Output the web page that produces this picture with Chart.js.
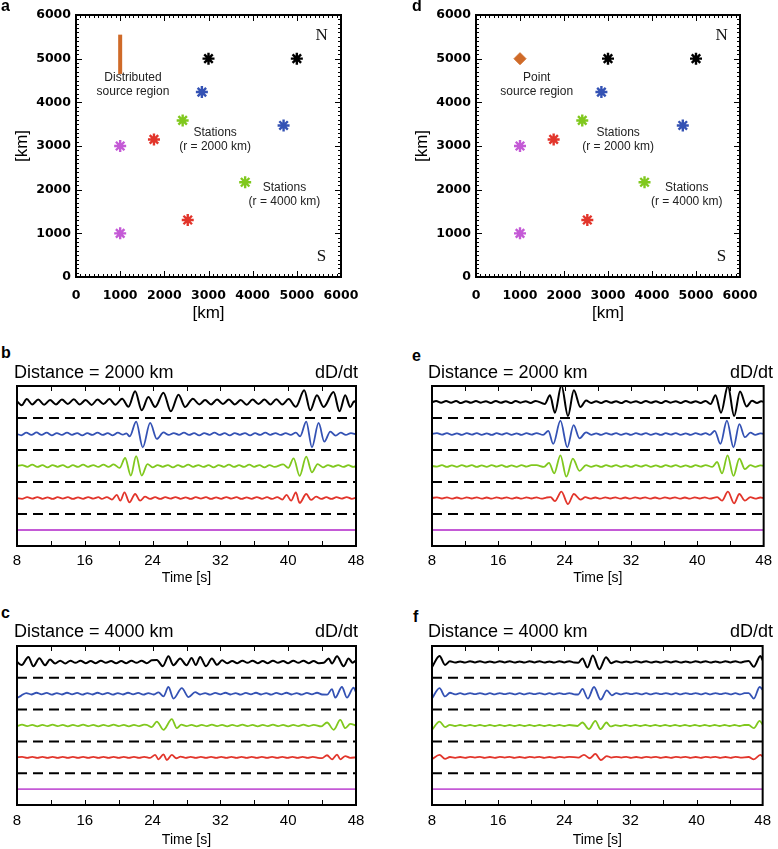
<!DOCTYPE html>
<html>
<head>
<meta charset="utf-8">
<title>Stations and waveforms</title>
<script src="https://cdn.jsdelivr.net/npm/chart.js@4.4.0/dist/chart.umd.min.js"></script>
<style>
  body { margin: 0; background: #fff; }
  #page { position: relative; width: 778px; height: 849px; overflow: hidden; font-family: "Liberation Sans", Arial, sans-serif; }
  canvas { position: absolute; }
  .t { position: absolute; white-space: nowrap; line-height: 1; color: #000; }
  .letter { font-weight: bold; font-size: 16px; }
  .ttl { font-size: 18px; }
</style>
</head>
<body>
<div id="page">
  <canvas id="cA" width="390" height="330" style="left:0;top:0"></canvas>
  <canvas id="cD" width="378" height="330" style="left:400px;top:0"></canvas>
  <canvas id="cB" width="385" height="215" style="left:0;top:380px"></canvas>
  <canvas id="cE" width="378" height="215" style="left:400px;top:380px"></canvas>
  <canvas id="cC" width="385" height="215" style="left:0;top:640px"></canvas>
  <canvas id="cF" width="378" height="215" style="left:400px;top:640px"></canvas>

  <div class="t letter" style="left:1px;top:-2px">a</div>
  <div class="t letter" style="left:412px;top:-2px">d</div>
  <div class="t letter" style="left:1px;top:345px">b</div>
  <div class="t letter" style="left:412px;top:348px">e</div>
  <div class="t letter" style="left:1px;top:605px">c</div>
  <div class="t letter" style="left:413px;top:609px">f</div>

  <div class="t ttl" style="left:14px;top:363px">Distance = 2000 km</div>
  <div class="t ttl" style="right:420px;top:363px">dD/dt</div>
  <div class="t ttl" style="left:428px;top:363px">Distance = 2000 km</div>
  <div class="t ttl" style="right:5px;top:363px">dD/dt</div>
  <div class="t ttl" style="left:14px;top:622px">Distance = 4000 km</div>
  <div class="t ttl" style="right:420px;top:622px">dD/dt</div>
  <div class="t ttl" style="left:428px;top:622px">Distance = 4000 km</div>
  <div class="t ttl" style="right:5px;top:622px">dD/dt</div>
</div>
<script>
// ---- map panels (a, d) ----
var kmTicks = [0, 1000, 2000, 3000, 4000, 5000, 6000];
// stations at r = 2000 km and r = 4000 km (black, blue, green, red, purple)
var innerRingX = [3000, 2850, 2415, 1765, 1000];
var innerRingY = [5000, 4235, 3585, 3150, 3000];
var outerRingX = [5000, 4700, 3830, 2530, 1000];
var outerRingY = [5000, 3470, 2170, 1305, 1000];
var distributedSourceX = [1000, 1000];
var distributedSourceY = [4650, 5550];
var pointSourceX = [1000];
var pointSourceY = [5000];

// ---- waveform panels (b, c, e, f): [time s, amplitude] ----
var timeTicks = [8, 16, 24, 32, 40, 48];

var bBlack = [[8,0.05],[8.55,-0.2],[9.15,0.18],[9.8,-0.15],[10.5,0.15],[11.2,-0.17],[11.9,0.12],[12.6,-0.15],[13.3,0.15],[14.0,-0.12],[14.7,0.17],[15.4,-0.15],[16.1,0.12],[16.8,-0.18],[17.5,0.15],[18.2,-0.12],[18.9,0.18],[19.6,-0.17],[20.4,0.2],[21.15,-0.3],[21.94,0.67],[22.72,-0.52],[23.5,0.31],[24.3,-0.31],[25.28,0.58],[26.15,-0.58],[27.06,0.46],[27.84,-0.31],[28.75,0.21],[29.5,-0.15],[30.2,0.12],[30.9,-0.15],[31.6,0.15],[32.3,-0.12],[33.0,0.15],[33.7,-0.15],[34.4,0.12],[35.1,-0.17],[35.8,0.15],[36.5,-0.12],[37.2,0.15],[37.9,-0.15],[38.6,0.17],[39.3,-0.15],[40.05,0.18],[40.9,-0.3],[41.89,0.73],[42.6,-0.52],[43.39,0.42],[44.18,-0.31],[45.35,0.62],[46.06,-0.58],[46.73,0.42],[47.32,-0.31],[47.8,0.05],[48,-0.05]];
var bBlue = [[8,0],[8.5,-0.08],[9.1,0.08],[9.7,-0.06],[10.3,0.1],[10.9,-0.06],[11.5,0.08],[12.1,-0.08],[12.7,0.06],[13.3,-0.06],[13.9,0.08],[14.5,-0.05],[15.1,0.06],[15.7,-0.08],[16.3,0.05],[16.9,-0.06],[17.5,0.08],[18.1,-0.06],[18.7,0.05],[19.3,-0.08],[19.9,0.08],[20.5,-0.04],[20.9,0.04],[21.3,-0.15],[22.06,0.77],[22.84,-0.83],[23.71,0.69],[24.5,-0.31],[25.28,0.1],[25.9,-0.06],[26.5,0.06],[27.1,-0.05],[27.7,0.08],[28.3,-0.06],[28.9,0.05],[29.5,-0.08],[30.1,0.06],[30.7,-0.05],[31.3,0.08],[31.9,-0.06],[32.5,0.05],[33.1,-0.08],[33.7,0.06],[34.3,-0.05],[34.9,0.06],[35.5,-0.08],[36.1,0.05],[36.7,-0.06],[37.3,0.08],[37.9,-0.05],[38.5,0.06],[39.1,-0.06],[39.7,0.05],[40.3,-0.05],[40.9,0.08],[41.4,-0.15],[42.13,0.77],[42.8,-0.83],[43.59,0.69],[44.26,-0.48],[44.97,0.15],[45.6,-0.1],[46.2,0.08],[46.8,-0.06],[47.4,0.06],[48,-0.02]];
var bGreen = [[8,0],[8.6,0.06],[9.2,-0.05],[9.8,0.08],[10.4,-0.06],[11.0,0.05],[11.6,-0.08],[12.2,0.06],[12.8,-0.05],[13.4,0.06],[14.0,-0.08],[14.6,0.05],[15.2,-0.06],[15.8,0.08],[16.4,-0.05],[17.0,0.06],[17.6,-0.06],[18.2,0.08],[18.8,-0.06],[19.4,0.1],[20.1,-0.12],[20.76,0.5],[21.43,-0.6],[22.06,0.62],[22.72,-0.6],[23.4,0.12],[24.0,-0.08],[24.6,0.06],[25.2,-0.05],[25.8,0.06],[26.4,-0.08],[27.0,0.05],[27.6,-0.06],[28.2,0.08],[28.8,-0.05],[29.4,0.06],[30.0,-0.06],[30.6,0.05],[31.2,-0.08],[31.8,0.06],[32.4,-0.05],[33.0,0.08],[33.6,-0.06],[34.2,0.05],[34.8,-0.06],[35.4,0.08],[36.0,-0.05],[36.6,0.06],[37.2,-0.08],[37.8,0.06],[38.4,-0.06],[39.4,0.1],[40.0,-0.12],[40.64,0.48],[41.35,-0.62],[42.13,0.58],[42.8,-0.4],[43.47,0.12],[44.1,-0.08],[44.7,0.06],[45.3,-0.05],[45.9,0.06],[46.5,-0.06],[47.1,0.05],[47.7,-0.06],[48,0]];
var bRed = [[8,0],[8.6,-0.05],[9.2,0.05],[9.8,-0.04],[10.4,0.06],[11.0,-0.05],[11.6,0.04],[12.2,-0.06],[12.8,0.05],[13.4,-0.04],[14.0,0.05],[14.6,-0.06],[15.2,0.04],[15.8,-0.05],[16.4,0.06],[17.0,-0.04],[17.6,0.05],[18.0,-0.06],[18.6,0.06],[19.2,-0.1],[19.77,0.19],[20.2,-0.17],[20.68,0.35],[21.27,-0.27],[21.94,0.25],[22.53,-0.17],[23.1,0.08],[23.7,-0.06],[24.3,0.05],[24.9,-0.06],[25.5,0.05],[26.1,-0.04],[26.7,0.06],[27.3,-0.05],[27.9,0.04],[28.5,-0.06],[29.1,0.05],[29.7,-0.04],[30.3,0.05],[30.9,-0.06],[31.5,0.04],[32.1,-0.05],[32.7,0.06],[33.3,-0.04],[33.9,0.05],[34.5,-0.06],[35.1,0.04],[35.7,-0.05],[36.3,0.06],[36.9,-0.05],[37.5,0.05],[38.1,-0.06],[38.7,0.06],[39.3,-0.1],[39.8,0.19],[40.35,-0.17],[40.9,0.35],[41.35,-0.31],[42.13,0.25],[42.69,-0.12],[43.3,0.08],[43.9,-0.06],[44.5,0.05],[45.1,-0.06],[45.7,0.05],[46.3,-0.04],[46.9,0.06],[47.5,-0.05],[48,0.02]];
var bPurple = [[8,0],[48,0]];

var eBlack = [[8,-0.02],[8.5,0.06],[9.1,-0.05],[9.7,0.07],[10.3,-0.04],[10.9,0.06],[11.5,-0.07],[12.1,0.05],[12.7,-0.05],[13.3,0.07],[13.9,-0.04],[14.5,0.05],[15.1,-0.06],[15.7,0.07],[16.3,-0.05],[16.9,0.05],[17.5,-0.07],[18.1,0.06],[18.7,-0.04],[19.3,0.05],[19.9,-0.06],[20.5,0.07],[21.6,-0.12],[22.23,0.42],[22.82,-0.67],[23.61,1.04],[24.4,-0.88],[25.11,0.73],[25.9,-0.31],[26.58,0.1],[27.2,-0.06],[27.8,0.05],[28.4,-0.06],[29.0,0.07],[29.6,-0.05],[30.2,0.05],[30.8,-0.07],[31.4,0.06],[32.0,-0.04],[32.6,0.05],[33.2,-0.06],[33.8,0.07],[34.4,-0.05],[35.0,0.05],[35.6,-0.07],[36.2,0.06],[36.8,-0.04],[37.4,0.05],[38.0,-0.06],[38.6,0.07],[39.2,-0.05],[39.8,0.05],[40.4,-0.06],[41.0,0.07],[41.6,-0.12],[42.19,0.42],[42.86,-0.67],[43.69,1.02],[44.44,-0.88],[45.15,0.65],[45.94,-0.28],[46.6,0.08],[47.2,-0.06],[47.7,0.05],[48,0]];
var eBlue = [[8,0],[8.6,0.05],[9.2,-0.04],[9.8,0.06],[10.4,-0.05],[11.0,0.04],[11.6,-0.06],[12.2,0.05],[12.8,-0.04],[13.4,0.06],[14.0,-0.05],[14.6,0.04],[15.2,-0.06],[15.8,0.05],[16.4,-0.04],[17.0,0.06],[17.6,-0.05],[18.2,0.04],[18.8,-0.06],[19.4,0.05],[20.0,-0.04],[20.6,0.06],[21.4,-0.06],[22.03,0.2],[22.62,-0.62],[23.49,0.83],[24.32,-0.83],[25.08,0.56],[25.79,-0.27],[26.58,0.1],[27.2,-0.05],[27.8,0.04],[28.4,-0.06],[29.0,0.05],[29.6,-0.04],[30.2,0.06],[30.8,-0.05],[31.4,0.04],[32.0,-0.06],[32.6,0.05],[33.2,-0.04],[33.8,0.06],[34.4,-0.05],[35.0,0.04],[35.6,-0.06],[36.2,0.05],[36.8,-0.04],[37.4,0.06],[38.0,-0.05],[38.6,0.04],[39.2,-0.06],[39.8,0.05],[40.4,-0.04],[41.0,0.06],[41.5,-0.06],[42.1,0.2],[42.78,-0.62],[43.57,0.83],[44.36,-0.83],[45.07,0.62],[45.74,-0.2],[46.4,0.08],[47.0,-0.05],[47.6,0.04],[48,0]];
var eGreen = [[8,0],[8.6,-0.04],[9.2,0.05],[9.8,-0.06],[10.4,0.04],[11.0,-0.05],[11.6,0.06],[12.2,-0.04],[12.8,0.05],[13.4,-0.06],[14.0,0.04],[14.6,-0.05],[15.2,0.06],[15.8,-0.04],[16.4,0.05],[17.0,-0.06],[17.6,0.04],[18.2,-0.05],[18.8,0.06],[19.4,-0.04],[20.0,0.05],[20.6,0.05],[21.5,-0.06],[22.11,0.2],[22.74,-0.46],[23.49,0.67],[24.2,-0.67],[24.99,0.46],[25.79,-0.31],[26.58,0.05],[27.2,-0.05],[27.8,0.04],[28.4,-0.06],[29.0,0.05],[29.6,-0.04],[30.2,0.06],[30.8,-0.05],[31.4,0.04],[32.0,-0.06],[32.6,0.05],[33.2,-0.04],[33.8,0.06],[34.4,-0.05],[35.0,0.04],[35.6,-0.06],[36.2,0.05],[36.8,-0.04],[37.4,0.06],[38.0,-0.05],[38.6,0.04],[39.2,-0.06],[39.8,0.05],[40.4,-0.04],[41.0,0.06],[41.8,-0.06],[42.38,0.25],[42.98,-0.46],[43.65,0.67],[44.36,-0.62],[45.07,0.46],[45.74,-0.2],[46.4,0.06],[47.0,-0.05],[47.6,0.04],[48,0]];
var eRed = [[8,0],[8.6,0.04],[9.2,-0.03],[9.8,0.04],[10.4,-0.04],[11.0,0.03],[11.6,-0.04],[12.2,0.04],[12.8,-0.03],[13.4,0.04],[14.0,-0.04],[14.6,0.03],[15.2,-0.04],[15.8,0.04],[16.4,-0.03],[17.0,0.04],[17.6,-0.04],[18.2,0.03],[18.8,-0.04],[19.4,0.04],[20.0,-0.03],[20.6,0.04],[21.2,-0.04],[21.8,0.03],[22.3,0.06],[22.82,-0.2],[23.61,0.4],[24.4,-0.38],[25.11,0.25],[25.9,-0.1],[26.5,0.05],[27.1,-0.04],[27.7,0.03],[28.3,-0.04],[28.9,0.04],[29.5,-0.03],[30.1,0.04],[30.7,-0.04],[31.3,0.03],[31.9,-0.04],[32.5,0.04],[33.1,-0.03],[33.7,0.04],[34.3,-0.04],[34.9,0.03],[35.5,-0.04],[36.1,0.04],[36.7,-0.03],[37.3,0.04],[37.9,-0.04],[38.5,0.03],[39.1,-0.04],[39.7,0.04],[40.3,-0.03],[40.9,0.04],[41.5,-0.04],[42.4,0.06],[42.98,-0.17],[43.69,0.4],[44.44,-0.33],[45.07,0.25],[45.74,-0.17],[46.4,0.05],[47.0,-0.04],[47.6,0.03],[48,0]];
var ePurple = [[8,0],[48,0]];

var cBlack = [[8,0],[8.55,-0.2],[9.34,0.31],[9.93,-0.27],[10.64,0.23],[11.31,-0.21],[11.9,0.15],[12.5,-0.1],[13.1,0.08],[13.7,-0.1],[14.3,0.08],[14.9,-0.06],[15.5,0.08],[16.1,-0.08],[16.7,0.06],[17.3,-0.08],[17.9,0.08],[18.5,-0.06],[19.1,0.06],[19.7,-0.08],[20.3,0.06],[20.9,-0.08],[21.5,0.08],[22.1,-0.06],[22.7,0.08],[23.3,-0.08],[23.9,0.1],[24.5,0.12],[25.2,-0.27],[25.87,0.35],[26.46,-0.21],[27.25,0.21],[28.0,-0.21],[28.6,0.25],[29.1,-0.2],[29.6,0.31],[30.3,-0.27],[31.0,0.21],[31.6,-0.18],[32.2,0.1],[32.8,-0.08],[33.4,0.06],[34.0,-0.08],[34.6,0.08],[35.2,-0.06],[35.8,0.08],[36.4,-0.08],[37.0,0.06],[37.6,-0.08],[38.2,0.08],[38.8,-0.06],[39.4,0.06],[40.0,-0.08],[40.6,0.08],[41.2,-0.06],[41.8,0.08],[42.4,-0.08],[43.0,0.06],[43.6,-0.08],[44.2,-0.06],[44.77,0.21],[45.17,-0.1],[45.76,0.35],[46.54,-0.27],[47.13,0.21],[47.6,-0.05],[48,0.1]];
var cBlue = [[8,-0.27],[8.5,-0.12],[9.1,0.04],[9.7,-0.05],[10.3,0.06],[10.9,-0.04],[11.5,0.05],[12.1,-0.06],[12.7,0.04],[13.3,-0.05],[13.9,0.06],[14.5,-0.04],[15.1,0.05],[15.7,-0.06],[16.3,0.04],[16.9,-0.05],[17.5,0.06],[18.1,-0.04],[18.7,0.05],[19.3,-0.06],[19.9,0.04],[20.5,-0.05],[21.1,0.06],[21.7,-0.04],[22.3,0.05],[22.9,-0.06],[23.5,0.04],[24.1,-0.05],[24.7,0.08],[25.28,-0.17],[25.87,0.42],[26.46,-0.31],[27.45,0.35],[28.24,-0.21],[29.02,0.1],[29.6,-0.05],[30.2,0.04],[30.8,-0.06],[31.4,0.05],[32.0,-0.04],[32.6,0.06],[33.2,-0.05],[33.8,0.04],[34.4,-0.06],[35.0,0.05],[35.6,-0.04],[36.2,0.06],[36.8,-0.05],[37.4,0.04],[38.0,-0.06],[38.6,0.05],[39.2,-0.04],[39.8,0.06],[40.4,-0.05],[41.0,0.04],[41.6,-0.06],[42.2,0.05],[42.8,-0.04],[43.4,0.06],[44.0,-0.05],[44.6,-0.06],[45.16,0.29],[45.55,-0.25],[46.34,0.42],[46.93,-0.25],[47.72,0.38],[48,0.1]];
var cGreen = [[8,-0.04],[8.6,0.05],[9.2,-0.04],[9.8,0.04],[10.4,-0.05],[11.0,0.04],[11.6,-0.04],[12.2,0.05],[12.8,-0.04],[13.4,0.04],[14.0,-0.05],[14.6,0.04],[15.2,-0.04],[15.8,0.05],[16.4,-0.04],[17.0,0.04],[17.6,-0.05],[18.2,0.04],[18.8,-0.04],[19.4,0.05],[20.0,-0.04],[20.6,0.04],[21.2,-0.05],[21.8,0.04],[22.4,-0.04],[23.0,0.05],[23.3,0.04],[23.9,-0.1],[24.5,0.25],[25.28,-0.27],[26.27,0.4],[26.86,-0.17],[27.4,0.05],[28.0,-0.04],[28.6,0.04],[29.2,-0.05],[29.8,0.04],[30.4,-0.04],[31.0,0.05],[31.6,-0.04],[32.2,0.04],[32.8,-0.05],[33.4,0.04],[34.0,-0.04],[34.6,0.05],[35.2,-0.04],[35.8,0.04],[36.4,-0.05],[37.0,0.04],[37.6,-0.04],[38.2,0.05],[38.8,-0.04],[39.4,0.04],[40.0,-0.05],[40.6,0.04],[41.2,-0.04],[41.8,0.05],[42.4,-0.04],[43.0,0.04],[43.9,-0.06],[44.58,0.19],[45.37,-0.27],[46.15,0.35],[46.74,-0.17],[47.33,0.1],[48,0]];
var cRed = [[8,0],[8.6,0.03],[9.2,-0.03],[9.8,0.03],[10.4,-0.03],[11.0,0.03],[11.6,-0.03],[12.2,0.03],[12.8,-0.03],[13.4,0.03],[14.0,-0.03],[14.6,0.03],[15.2,-0.03],[15.8,0.03],[16.4,-0.03],[17.0,0.03],[17.6,-0.03],[18.2,0.03],[18.8,-0.03],[19.4,0.03],[20.0,-0.03],[20.6,0.03],[21.2,-0.03],[21.8,0.03],[22.4,-0.03],[23.0,0.03],[23.7,-0.04],[24.3,0.15],[24.7,-0.13],[25.28,0.19],[25.68,-0.17],[26.27,0.15],[26.8,-0.06],[27.3,0.04],[27.9,-0.03],[28.5,0.03],[29.1,-0.03],[29.7,0.03],[30.3,-0.03],[30.9,0.03],[31.5,-0.03],[32.1,0.03],[32.7,-0.03],[33.3,0.03],[33.9,-0.03],[34.5,0.03],[35.1,-0.03],[35.7,0.03],[36.3,-0.03],[36.9,0.03],[37.5,-0.03],[38.1,0.03],[38.7,-0.03],[39.3,0.03],[39.9,-0.03],[40.5,0.03],[41.1,-0.03],[41.7,0.03],[42.3,-0.03],[42.9,0.03],[43.5,-0.03],[44.0,-0.05],[44.58,0.13],[45.17,-0.13],[45.76,0.17],[46.15,-0.13],[46.74,0.08],[47.3,-0.03],[48,0]];
var cPurple = [[8,0],[48,0]];

var fBlack = [[8,-0.33],[8.91,0.375],[9.58,-0.19],[10.17,0.04],[10.8,-0.04],[11.4,0.03],[12.0,-0.04],[12.6,0.04],[13.2,-0.03],[13.8,0.04],[14.4,-0.04],[15.0,0.03],[15.6,-0.04],[16.2,0.04],[16.8,-0.03],[17.4,0.04],[18.0,-0.04],[18.6,0.03],[19.2,-0.04],[19.8,0.04],[20.4,-0.03],[21.0,0.04],[21.6,-0.04],[22.2,0.03],[22.8,-0.04],[23.4,0.04],[24.0,-0.03],[24.6,0.04],[25.2,-0.04],[25.7,-0.05],[26.2,0.22],[26.8,-0.35],[27.45,0.4],[28.25,-0.46],[29.05,0.3],[29.7,-0.08],[30.3,0.04],[30.9,-0.04],[31.5,0.03],[32.1,-0.04],[32.7,0.04],[33.3,-0.03],[33.9,0.04],[34.5,-0.04],[35.1,0.03],[35.7,-0.04],[36.3,0.04],[36.9,-0.03],[37.5,0.04],[38.1,-0.04],[38.7,0.03],[39.3,-0.04],[39.9,0.04],[40.5,-0.03],[41.1,0.04],[41.7,-0.04],[42.3,0.03],[42.9,-0.04],[43.5,0.04],[44.1,-0.03],[44.7,0.04],[45.3,-0.04],[45.8,0.03],[46.3,0.05],[46.93,-0.31],[47.72,0.375],[48,0.1]];
var fBlue = [[8,-0.3],[8.91,0.35],[9.58,-0.17],[10.17,0.06],[10.8,-0.04],[11.4,0.03],[12.0,-0.04],[12.6,0.04],[13.2,-0.03],[13.8,0.04],[14.4,-0.04],[15.0,0.03],[15.6,-0.04],[16.2,0.04],[16.8,-0.03],[17.4,0.04],[18.0,-0.04],[18.6,0.03],[19.2,-0.04],[19.8,0.04],[20.4,-0.03],[21.0,0.04],[21.6,-0.04],[22.2,0.03],[22.8,-0.04],[23.4,0.04],[24.0,-0.03],[24.6,0.04],[25.2,-0.04],[25.7,-0.05],[26.2,0.3],[26.85,-0.31],[27.6,0.42],[28.4,-0.375],[29.15,0.21],[29.75,-0.1],[30.3,0.03],[30.9,-0.04],[31.5,0.04],[32.1,-0.03],[32.7,0.04],[33.3,-0.04],[33.9,0.03],[34.5,-0.04],[35.1,0.04],[35.7,-0.03],[36.3,0.04],[36.9,-0.04],[37.5,0.03],[38.1,-0.04],[38.7,0.04],[39.3,-0.03],[39.9,0.04],[40.5,-0.04],[41.1,0.03],[41.7,-0.04],[42.3,0.04],[42.9,-0.03],[43.5,0.04],[44.1,-0.04],[44.7,0.03],[45.3,-0.04],[45.8,0.03],[46.3,0.04],[46.93,-0.31],[47.64,0.42],[48,0.25]];
var fGreen = [[8,-0.27],[8.91,0.25],[9.58,-0.1],[10.17,0.04],[10.8,-0.03],[11.4,0.03],[12.0,-0.03],[12.6,0.03],[13.2,-0.03],[13.8,0.03],[14.4,-0.03],[15.0,0.03],[15.6,-0.03],[16.2,0.03],[16.8,-0.03],[17.4,0.03],[18.0,-0.03],[18.6,0.03],[19.2,-0.03],[19.8,0.03],[20.4,-0.03],[21.0,0.03],[21.6,-0.03],[22.2,0.03],[22.8,-0.03],[23.4,0.03],[24.0,-0.03],[24.6,0.03],[25.6,-0.03],[26.2,0.19],[26.97,-0.23],[27.76,0.29],[28.4,-0.23],[29.1,0.19],[29.6,-0.06],[30.2,0.02],[30.8,-0.03],[31.4,0.03],[32.0,-0.03],[32.6,0.03],[33.2,-0.03],[33.8,0.03],[34.4,-0.03],[35.0,0.03],[35.6,-0.03],[36.2,0.03],[36.8,-0.03],[37.4,0.03],[38.0,-0.03],[38.6,0.03],[39.2,-0.03],[39.8,0.03],[40.4,-0.03],[41.0,0.03],[41.6,-0.03],[42.2,0.03],[42.8,-0.03],[43.4,0.03],[44.0,-0.03],[44.6,0.03],[45.2,-0.03],[45.8,0.03],[46.3,0.03],[46.93,-0.17],[47.64,0.29],[48,0.05]];
var fRed = [[8,-0.12],[8.91,0.15],[9.58,-0.1],[10.17,0.02],[10.8,-0.03],[11.4,0.02],[12.0,-0.03],[12.6,0.03],[13.2,-0.02],[13.8,0.03],[14.4,-0.03],[15.0,0.02],[15.6,-0.03],[16.2,0.03],[16.8,-0.02],[17.4,0.03],[18.0,-0.03],[18.6,0.02],[19.2,-0.03],[19.8,0.03],[20.4,-0.02],[21.0,0.03],[21.6,-0.03],[22.2,0.02],[22.8,-0.03],[23.4,0.03],[24.0,-0.02],[24.6,0.03],[25.7,-0.02],[26.38,0.15],[27.1,-0.06],[27.76,0.21],[28.43,-0.17],[29.14,0.08],[29.7,-0.02],[30.3,0.03],[30.9,-0.02],[31.5,0.03],[32.1,-0.03],[32.7,0.02],[33.3,-0.03],[33.9,0.03],[34.5,-0.02],[35.1,0.03],[35.7,-0.03],[36.3,0.02],[36.9,-0.03],[37.5,0.03],[38.1,-0.02],[38.7,0.03],[39.3,-0.03],[39.9,0.02],[40.5,-0.03],[41.1,0.03],[41.7,-0.02],[42.3,0.03],[42.9,-0.03],[43.5,0.02],[44.1,-0.03],[44.7,0.03],[45.3,-0.02],[46.3,0.02],[46.93,-0.13],[47.72,0.15],[48,0.05]];
var fPurple = [[8,0],[48,0]];

// trace stacking: black on top, purple at bottom, dashed separators in between
var traceColors = ['#000000', '#3452b4', '#80c81e', '#e2352b', '#c45ad6'];
var traceOffsets = [8, 6, 4, 2, 0];
var separatorLevels = [7, 5, 3, 1];
var orange = '#cf6a28';

Chart.defaults.font.family = '"Liberation Sans", Arial, sans-serif';
Chart.defaults.color = '#000';

// frame with inward ticks on all sides, drawn through the chart scales
var framePlugin = {
  id: 'frame',
  afterDraw: function(chart, args, o) {
    var ctx = chart.ctx, a = chart.chartArea, xs = chart.scales.x, ys = chart.scales.y;
    ctx.save();
    ctx.strokeStyle = '#000';
    ctx.lineWidth = 1;
    function seg(x1, y1, x2, y2) { ctx.beginPath(); ctx.moveTo(x1, y1); ctx.lineTo(x2, y2); ctx.stroke(); }
    function isMajor(v, step) { return step && Math.abs(v / step - Math.round(v / step)) < 1e-6; }
    if (o.xMinor) {
      for (var v = xs.min + o.xMinor; v < xs.max - 1e-6; v += o.xMinor) {
        var px = Math.round(xs.getPixelForValue(v)) + 0.5;
        var len = isMajor(v, o.xMajor) ? o.majorLen : o.minorLen;
        seg(px, a.top, px, a.top + len);
        seg(px, a.bottom, px, a.bottom - len);
      }
    }
    if (o.yMinor) {
      for (var w = ys.min + o.yMinor; w < ys.max - 1e-6; w += o.yMinor) {
        var py = Math.round(ys.getPixelForValue(w)) + 0.5;
        var l2 = isMajor(w, o.yMajor) ? o.majorLen : o.minorLen;
        seg(a.left, py, a.left + l2, py);
        seg(a.right, py, a.right - l2, py);
      }
    }
    ctx.lineWidth = o.borderWidth || 2;
    ctx.strokeRect(a.left, a.top, a.width, a.height);
    ctx.restore();
  }
};

// in-plot labels placed at data coordinates
var notesPlugin = {
  id: 'notes',
  afterDatasetsDraw: function(chart, args, o) {
    if (!o.items) return;
    var ctx = chart.ctx, xs = chart.scales.x, ys = chart.scales.y;
    ctx.save();
    ctx.textAlign = 'center';
    ctx.textBaseline = 'middle';
    o.items.forEach(function(it) {
      ctx.font = it.font;
      ctx.fillStyle = it.color || '#222';
      var cx = xs.getPixelForValue(it.x), cy = ys.getPixelForValue(it.y);
      var n = it.lines.length, lh = it.lineHeight || 14;
      it.lines.forEach(function(s, i) {
        ctx.fillText(s, cx, cy + (i - (n - 1) / 2) * lh);
      });
    });
    ctx.restore();
  }
};

function plainTick(v) { return String(v); }

function mapChart(id, sourceDatasets, notes, rightPad) {
  var stations = [];
  for (var i = 0; i < innerRingX.length; i++) {
    stations.push({ x: innerRingX[i], y: innerRingY[i], c: traceColors[i] });
    stations.push({ x: outerRingX[i], y: outerRingY[i], c: traceColors[i] });
  }
  var datasets = sourceDatasets.concat([{
    data: stations.map(function(p) { return { x: p.x, y: p.y }; }),
    pointStyle: 'star',
    pointRadius: 6,
    pointBorderWidth: 2.4,
    pointBorderColor: stations.map(function(p) { return p.c; }),
    pointBackgroundColor: stations.map(function(p) { return p.c; }),
    showLine: false
  }]);
  return new Chart(document.getElementById(id), {
    type: 'scatter',
    data: { datasets: datasets },
    options: {
      responsive: false,
      animation: false,
      layout: { padding: { top: 15, right: rightPad, left: 0, bottom: 0 } },
      plugins: {
        legend: { display: false },
        tooltip: { enabled: false },
        frame: { xMinor: 100, xMajor: 1000, yMinor: 100, yMajor: 1000, majorLen: 6, minorLen: 3, borderWidth: 2 },
        notes: { items: notes }
      },
      scales: {
        x: {
          type: 'linear', min: 0, max: 6000,
          afterBuildTicks: function(s) { s.ticks = kmTicks.map(function(v) { return { value: v }; }); },
          afterFit: function(s) { s.height = 53; },
          grid: { display: false, drawTicks: false },
          border: { display: false },
          ticks: { padding: 11, maxRotation: 0, callback: plainTick, font: { family: '"DejaVu Sans"', size: 12.5, weight: 'bold' } },
          title: { display: true, text: '[km]', font: { size: 17 }, padding: { top: 0, bottom: 6 } }
        },
        y: {
          type: 'linear', min: 0, max: 6000,
          afterBuildTicks: function(s) { s.ticks = kmTicks.map(function(v) { return { value: v }; }); },
          afterFit: function(s) { s.width = 76; },
          grid: { display: false, drawTicks: false },
          border: { display: false },
          ticks: { padding: 5, callback: plainTick, font: { family: '"DejaVu Sans"', size: 12.5, weight: 'bold' } },
          title: { display: true, text: '[km]', font: { size: 17 }, padding: { top: 12, bottom: 0 } }
        }
      }
    },
    plugins: [framePlugin, notesPlugin]
  });
}

var serif = '17px "Liberation Serif", "Times New Roman", serif';
var small = '12px "Liberation Sans", Arial, sans-serif';

mapChart('cA', [{
  data: distributedSourceX.map(function(x, i) { return { x: x, y: distributedSourceY[i] }; }),
  showLine: true, borderColor: orange, borderWidth: 4, pointRadius: 0, borderCapStyle: 'butt'
}], [
  { x: 1290, y: 4400, lines: ['Distributed', 'source region'], font: small },
  { x: 3150, y: 3145, lines: ['Stations', '(r = 2000 km)'], font: small },
  { x: 4720, y: 1890, lines: ['Stations', '(r = 4000 km)'], font: small },
  { x: 5560, y: 5540, lines: ['N'], font: serif, color: '#111' },
  { x: 5560, y: 480, lines: ['S'], font: serif, color: '#111' }
], 49);

mapChart('cD', [{
  data: pointSourceX.map(function(x, i) { return { x: x, y: pointSourceY[i] }; }),
  showLine: false, pointStyle: 'rectRot', pointRadius: 6,
  pointBackgroundColor: orange, pointBorderColor: orange, pointBorderWidth: 1
}], [
  { x: 1380, y: 4405, lines: ['Point', 'source region'], font: small },
  { x: 3230, y: 3150, lines: ['Stations', '(r = 2000 km)'], font: small },
  { x: 4790, y: 1890, lines: ['Stations', '(r = 4000 km)'], font: small },
  { x: 5580, y: 5540, lines: ['N'], font: serif, color: '#111' },
  { x: 5580, y: 480, lines: ['S'], font: serif, color: '#111' }
], 38);

function waveChart(id, traces, pad, xHeight, tickPad, titlePad) {
  var datasets = [];
  separatorLevels.forEach(function(lv) {
    datasets.push({
      data: [{ x: 8, y: lv }, { x: 48, y: lv }],
      borderColor: '#000', borderWidth: 2, borderDash: [10, 6],
      pointRadius: 0, showLine: true
    });
  });
  traces.forEach(function(tr, i) {
    datasets.push({
      data: tr.map(function(p) { return { x: p[0], y: traceOffsets[i] + p[1] }; }),
      borderColor: traceColors[i], borderWidth: i === 0 ? 2 : 1.8,
      pointRadius: 0, showLine: true, cubicInterpolationMode: 'monotone'
    });
  });
  return new Chart(document.getElementById(id), {
    type: 'scatter',
    data: { datasets: datasets },
    options: {
      responsive: false,
      animation: false,
      layout: { padding: pad },
      plugins: {
        legend: { display: false },
        tooltip: { enabled: false },
        frame: { xMinor: 4, xMajor: 8, majorLen: 5, minorLen: 5, borderWidth: 2 }
      },
      scales: {
        x: {
          type: 'linear', min: 8, max: 48,
          afterBuildTicks: function(s) { s.ticks = timeTicks.map(function(v) { return { value: v }; }); },
          afterFit: function(s) { s.height = xHeight; },
          grid: { display: false, drawTicks: false },
          border: { display: false },
          ticks: { padding: tickPad, maxRotation: 0, font: { size: 15 } },
          title: { display: true, text: 'Time [s]', font: { size: 14 }, padding: { top: 0, bottom: titlePad } }
        },
        y: { display: false, min: -1, max: 9 }
      }
    },
    plugins: [framePlugin]
  });
}

waveChart('cB', [bBlack, bBlue, bGreen, bRed, bPurple], { left: 17, right: 29, top: 6, bottom: 0 }, 49, 6, 8);
waveChart('cE', [eBlack, eBlue, eGreen, eRed, ePurple], { left: 32, right: 9, top: 6, bottom: 0 }, 49, 6, 8);
waveChart('cC', [cBlack, cBlue, cGreen, cRed, cPurple], { left: 17, right: 29, top: 6, bottom: 0 }, 50, 7, 6);
waveChart('cF', [fBlack, fBlue, fGreen, fRed, fPurple], { left: 32, right: 9, top: 6, bottom: 0 }, 50, 7, 6);
</script>
</body>
</html>
